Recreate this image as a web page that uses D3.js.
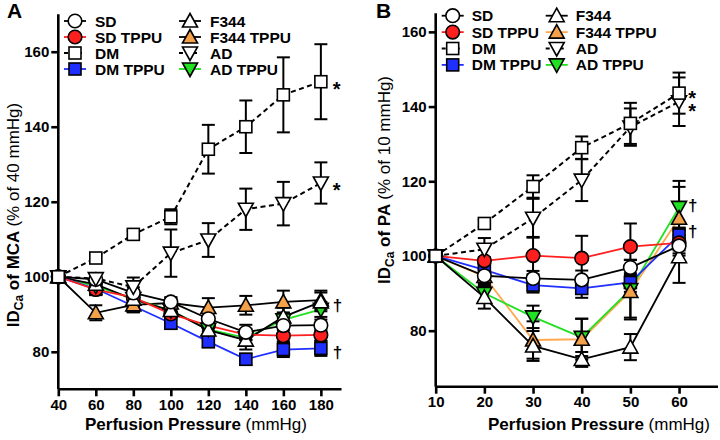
<!DOCTYPE html>
<html><head><meta charset="utf-8">
<script src="https://cdn.jsdelivr.net/npm/d3@7"></script>
<style>body{margin:0;background:#fff}svg{display:block;font-family:"Liberation Sans",Arial,sans-serif}</style>
</head><body><svg id="c" width="720" height="440"></svg>
<script>
// ---------- DATA ----------
const A_x = [40,60,80,100,120,140,160,180];
const A_SD     = [100,99.3,95.7,93.3,88.8,85.2,87.0,87.1];
const A_SD_e   = [0,1.5,1.5,1.2,1.5,2,2,1.5];
const A_SDT    = [100,96.6,94.5,90.1,87.0,84.6,84.3,84.5];
const A_SDT_e  = [0,1.5,1.5,1.5,1.5,1.5,1.5,1.5];
const A_DMT    = [100,96.8,92.2,87.6,82.7,78.0,80.6,80.9];
const A_DMT_e  = [0,1.5,1.5,1.5,1.5,1.5,2,2];
const A_F344   = [100,98.0,94.0,91.0,85.8,83.1,89.3,93.3];
const A_F344_e = [0,1,1.5,1.5,2,2.5,2.5,2.5];
const A_F344T  = [100,90.4,92.5,93.0,91.8,92.4,93.3,93.8];
const A_F344T_e= [0,2,2,1.5,2.5,2.5,3,2.5];
const A_ADT    = [100,97.5,94.2,91.0,86.0,83.7,88.5,91.3];
const A_ADT_e  = [0,1.5,1.5,1.5,1.5,1.5,2,2];
const A_DM     = [100,105.0,111.3,116.0,134.0,140.0,148.5,152.0];
const A_DM_e   = [0,1,1,2,6.5,7,10,10];
const A_AD     = [100,99.5,97.3,106.3,109.8,118.0,119.5,125.0];
const A_AD_e   = [0,1.5,2.5,6.3,4.5,5.5,5.8,5.5];

const B_x = [10,20,30,40,50,60];
const B_SD     = [100,94.7,94.0,93.6,96.9,102.7];
const B_SD_e   = [0,1.5,2,2.5,2,2];
const B_SDT    = [100,98.7,100.1,99.4,102.5,103.5];
const B_SDT_e  = [0,1,5,6,6.2,2];
const B_DMT    = [100,96.3,92.2,91.3,92.9,105.6];
const B_DMT_e  = [0,1.5,2,2.5,2.5,2];
const B_F344   = [100,88.9,75.9,72.3,75.6,99.8];
const B_F344_e = [0,3,4,2,3.5,7];
const B_F344T  = [100,94.5,77.5,77.7,90.5,110.1];
const B_F344T_e= [0,2,5,5.5,7,10];
const B_ADT    = [100,90.0,83.7,78.2,91.0,113.0];
const B_ADT_e  = [0,2,3,5,8,5.5];
const B_DM     = [100,108.7,118.6,129.0,135.5,143.6];
const B_DM_e   = [0,1,3,3,5.5,5.5];
const B_AD     = [100,101.8,110.1,120.3,134.5,141.3];
const B_AD_e   = [0,3,5.2,5.6,5,6.5];

const yTicks = [80,100,120,140,160];
const A_xTicks = [40,60,80,100,120,140,160,180];
const B_xTicks = [10,20,30,40,50,60];
const legendNames = ["SD","SD TPPU","DM","DM TPPU","F344","F344 TPPU","AD","AD TPPU"];

// ---------- STYLE ----------
const C = {red:"#ff1f1f", blue:"#1f2fff", green:"#22e022", orange:"#f5a04a", orangeLine:"#ffa850"};
const svg = d3.select("#c");

function marker(g, type, fill, cx, cy){
  const s = 1.6;
  if(type==="circle") g.append("circle").attr("cx",cx).attr("cy",cy).attr("r",6.8).attr("fill",fill).attr("stroke","#000").attr("stroke-width",s);
  else if(type==="square") g.append("rect").attr("x",cx-6).attr("y",cy-6).attr("width",12).attr("height",12).attr("fill",fill).attr("stroke","#000").attr("stroke-width",s);
  else if(type==="tri") g.append("path").attr("d",`M${cx},${cy-7.5}L${cx+7.5},${cy+6}L${cx-7.5},${cy+6}Z`).attr("fill",fill).attr("stroke","#000").attr("stroke-width",s);
  else if(type==="itri") g.append("path").attr("d",`M${cx},${cy+7.5}L${cx+7.5},${cy-6}L${cx-7.5},${cy-6}Z`).attr("fill",fill).attr("stroke","#000").attr("stroke-width",s);
}

function panel(cfg){
  const g = svg.append("g");
  const x = d3.scaleLinear().domain(cfg.xd).range(cfg.xr);
  const y = d3.scaleLinear().domain(cfg.yd).range(cfg.yr);
  const ya = g.append("g").attr("transform",`translate(${cfg.xr[0]},0)`)
    .call(d3.axisLeft(y).tickValues(yTicks).tickSize(7).tickPadding(2));
  const xa = g.append("g").attr("transform",`translate(0,${cfg.yr[0]})`)
    .call(d3.axisBottom(x).tickValues(cfg.xt).tickSize(7).tickPadding(3));
  [ya,xa].forEach(a=>{
    a.select(".domain").attr("stroke","#000").attr("stroke-width",2.6);
    a.selectAll(".tick line").attr("stroke","#000").attr("stroke-width",2.6);
    a.selectAll("text").attr("font-size",15).attr("font-weight","bold").attr("fill","#000");
  });
  ya.select(".domain").attr("d",`M-0,${cfg.yr[0]}V${cfg.yr[1]}`);
  xa.select(".domain").attr("d",`M${cfg.xr[0]},0H${cfg.xr[1]}`);

  const line = d3.line().x((d,i)=>x(cfg.xs[i])).y(d=>y(d));
  cfg.series.forEach(s=>{
    g.append("path").attr("d",line(s.v)).attr("fill","none").attr("stroke",s.lc)
      .attr("stroke-width",s.dash?2:1.8).attr("stroke-dasharray",s.dash?"5,3.5":null);
  });
  cfg.series.forEach(s=>{
    s.v.forEach((v,i)=>{
      if(!s.e[i]) return;
      const cx = x(cfg.xs[i]);
      const t = y(v+s.e[i]), b = y(v-s.e[i]);
      g.append("line").attr("x1",cx).attr("x2",cx).attr("y1",t).attr("y2",b).attr("stroke","#000").attr("stroke-width",2);
      [t,b].forEach(yy=>g.append("line").attr("x1",cx-6.5).attr("x2",cx+6.5).attr("y1",yy).attr("y2",yy).attr("stroke","#000").attr("stroke-width",2));
    });
  });
  cfg.series.slice().sort((a,b)=>a.z-b.z).forEach(s=>{
    s.v.forEach((v,i)=>marker(g,s.m,s.f,x(cfg.xs[i]),y(v)));
  });
  // annotations
  cfg.notes.forEach(n=>{
    const t = g.append("text").attr("x",x(n.x)+n.dx).attr("y",y(n.y)+n.dy)
      .attr("font-size",n.fs).attr("font-weight","bold").text(n.t);
    if(n.vert){
      // stacked glyphs in one text element (vertical writing)
      t.style("writing-mode","vertical-rl").style("text-orientation","upright")
       .attr("letter-spacing",n.ls);
    }
  });
  cfg.leg.forEach((l,i)=>{
    const col = i<4?0:1, row = i%4;
    const mx = cfg.lx[col], my = cfg.ly0 + row*cfg.ldy;
    const s = cfg.series.find(q=>q.name===l);
    g.append("line").attr("x1",mx-11).attr("x2",mx+11).attr("y1",my).attr("y2",my)
      .attr("stroke",s.lc).attr("stroke-width",1.8).attr("stroke-dasharray",s.dash?"4,10,4":null);
    marker(g,s.m,s.f,mx,my);
    g.append("text").attr("x",mx+cfg.ltx).attr("y",my+5.5).attr("font-size",15.5).attr("font-weight","bold").text(l);
  });
  g.append("text").attr("x",cfg.panelXY[0]).attr("y",cfg.panelXY[1]).attr("font-size",21).attr("font-weight","bold").text(cfg.letter);
  const xl = g.append("text").attr("x",cfg.xlab[0]).attr("y",cfg.xlab[1]).attr("text-anchor","middle").attr("font-size",17);
  xl.append("tspan").attr("font-weight","bold").text("Perfusion Pressure ");
  xl.append("tspan").text("(mmHg)");
  const yl = g.append("text").attr("transform",`translate(${cfg.ylab[0]},${cfg.ylab[1]}) rotate(-90)`).attr("text-anchor","middle").attr("font-size",17);
  yl.append("tspan").attr("font-weight","bold").text("ID");
  yl.append("tspan").attr("font-weight","bold").attr("font-size",12).attr("dy",4).text("Ca");
  yl.append("tspan").attr("font-weight","bold").attr("dy",-4).text(" of "+cfg.organ+" ");
  yl.append("tspan").text(cfg.ref);
}

const mkSeries = (d, panelB)=>[
  {name:"DM", v:d.DM, e:d.DM_e, m:"square", f:"#fff", lc:"#000", dash:true, z:7},
  {name:"AD", v:d.AD, e:d.AD_e, m:"itri", f:"#fff", lc:"#000", dash:true, z:6},
  {name:"F344 TPPU", v:d.F344T, e:d.F344T_e, m:"tri", f:C.orange, lc:panelB?C.orangeLine:"#000", z:3},
  {name:"AD TPPU", v:d.ADT, e:d.ADT_e, m:"itri", f:C.green, lc:C.green, z:2},
  {name:"F344", v:d.F344, e:d.F344_e, m:"tri", f:"#fff", lc:"#000", z:4},
  {name:"DM TPPU", v:d.DMT, e:d.DMT_e, m:"square", f:C.blue, lc:C.blue, z:0},
  {name:"SD TPPU", v:d.SDT, e:d.SDT_e, m:"circle", f:C.red, lc:C.red, z:1},
  {name:"SD", v:d.SD, e:d.SD_e, m:"circle", f:"#fff", lc:"#000", z:5}
];

panel({
  letter:"A", panelXY:[7,18], organ:"MCA", ref:"(% of 40 mmHg)",
  xd:[40,191], xr:[58.3,341.5], yd:[70,170], yr:[389.3,14.2], xt:A_xTicks, xs:A_x,
  series: mkSeries({SD:A_SD,SD_e:A_SD_e,SDT:A_SDT,SDT_e:A_SDT_e,DMT:A_DMT,DMT_e:A_DMT_e,F344:A_F344,F344_e:A_F344_e,
    F344T:A_F344T,F344T_e:A_F344T_e,ADT:A_ADT,ADT_e:A_ADT_e,DM:A_DM,DM_e:A_DM_e,AD:A_AD,AD_e:A_AD_e}, false),
  notes:[{x:180,y:152,dx:12,dy:14,t:"*",fs:20},{x:180,y:125,dx:12,dy:14,t:"*",fs:20},
         {x:180,y:93.5,dx:12,dy:10,t:"†",fs:17},{x:180,y:81,dx:12,dy:10,t:"†",fs:17}],
  leg:legendNames, lx:[75,190], ly0:21, ldy:16, ltx:20,
  xlab:[196,430], ylab:[19,215]
});
panel({
  letter:"B", panelXY:[376,18], organ:"PA", ref:"(% of 10 mmHg)",
  xd:[10,68], xr:[435.7,718], yd:[65,165], yr:[386.7,13.2], xt:B_xTicks, xs:B_x,
  series: mkSeries({SD:B_SD,SD_e:B_SD_e,SDT:B_SDT,SDT_e:B_SDT_e,DMT:B_DMT,DMT_e:B_DMT_e,F344:B_F344,F344_e:B_F344_e,
    F344T:B_F344T,F344T_e:B_F344T_e,ADT:B_ADT,ADT_e:B_ADT_e,DM:B_DM,DM_e:B_DM_e,AD:B_AD,AD_e:B_AD_e}, true),
  notes:[{x:60,y:143.6,dx:13,dy:-6,t:"**",fs:20,vert:true,ls:-9},
         {x:60,y:113,dx:9,dy:4,t:"†",fs:17},{x:60,y:105.6,dx:9,dy:2,t:"†",fs:17}],
  leg:legendNames, lx:[452.7,556.7], ly0:15.7, ldy:16.4, ltx:19,
  xlab:[599,430], ylab:[390,180]
});
</script></body></html>
